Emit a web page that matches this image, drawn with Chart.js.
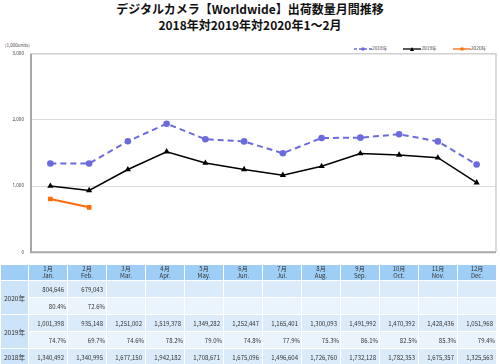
<!DOCTYPE html>
<html>
<head>
<meta charset="utf-8">
<script src="https://cdn.jsdelivr.net/npm/chart.js@4"></script>
<style>
  body { margin: 0; width: 500px; height: 364px; background: #fff; position: relative; overflow: hidden;
         font-family: "Noto Sans CJK JP", "Noto Sans", sans-serif; color: #222; }
  #title { position: absolute; top: 1px; left: 0; width: 500px; text-align: center; font-weight: bold;
           font-size: 12px; line-height: 15.5px; color: #111; }
  #unit { position: absolute; left: 5px; top: 42px; font-size: 4.5px; color: #444; }
  #legend { position: absolute; top: 43px; left: 354px; font-size: 4.8px; color: #444; white-space: nowrap; }
  #legend span.item { display: inline-block; margin-right: 16px; vertical-align: middle; }
  #legend canvas { vertical-align: middle; }
  #chartBox { position: absolute; left: 0; top: 44px; width: 500px; height: 218px; }
  table { position: absolute; left: 0; top: 264px; border-collapse: collapse; table-layout: fixed; width: 497px;
          font-size: 6px; color: #333; }
  td, th { border: 1px solid #fff; padding: 0; overflow: hidden; white-space: nowrap; }
  th { background: #9ecdf5; height: 15px; font-weight: normal; text-align: center; line-height: 6.5px; }
  td { height: 16px; }
  td.lab { background: #cde3f8; text-align: center; font-size: 6.6px; }
  td.v { background: #dcebfa; text-align: right; padding-right: 3px; }
  td.p { background: #eaf4fd; text-align: right; padding-right: 1px; }
</style>
</head>
<body>
<div id="title">デジタルカメラ【Worldwide】出荷数量月間推移<br>2018年対2019年対2020年1～2月</div>
<div id="unit">(1,000units)</div>
<div id="legend"></div>
<div id="chartBox"><canvas id="chartCanvas"></canvas></div>
<table id="tbl"></table>

<script>
const monthsJa = ['1月', '2月', '3月', '4月', '5月', '6月', '7月', '8月', '9月', '10月', '11月', '12月'];
const monthsEn = ['Jan.', 'Feb.', 'Mar.', 'Apr.', 'May.', 'Jun.', 'Jul.', 'Aug.', 'Sep.', 'Oct.', 'Nov.', 'Dec.'];

const units2018 = [1340492, 1340995, 1677150, 1942182, 1708671, 1675096, 1496604, 1726760, 1732128, 1782353, 1675357, 1325563];
const units2019 = [1001398, 935148, 1251002, 1519378, 1349282, 1252447, 1165401, 1300093, 1491992, 1470392, 1428436, 1051968];
const units2020 = [804646, 679043];

const yTicks = [0, 1000, 2000, 3000];

const series = [
    { label: '2018年', data: units2018, color: '#6b6bdc', dash: [6, 4], point: 'circle', width: 2 },
    { label: '2019年', data: units2019, color: '#000000', dash: [], point: 'triangle', width: 1.5 },
    { label: '2020年', data: units2020, color: '#ff6a0d', dash: [], point: 'rect', width: 2 }
];

// legend (small canvases with line + marker)
const legendDiv = document.getElementById('legend');
series.forEach(s => {
    const item = document.createElement('span');
    item.className = 'item';
    const c = document.createElement('canvas');
    c.width = 18; c.height = 6;
    const g = c.getContext('2d');
    g.strokeStyle = s.color; g.fillStyle = s.color; g.lineWidth = 1.3;
    g.setLineDash(s.dash.length ? [3, 2] : []);
    g.beginPath(); g.moveTo(0, 3); g.lineTo(18, 3); g.stroke();
    g.beginPath();
    if (s.point === 'circle') g.arc(9, 3, 1.8, 0, Math.PI * 2);
    else if (s.point === 'triangle') { g.moveTo(9, 1); g.lineTo(11, 5); g.lineTo(7, 5); }
    else g.rect(7.5, 1.5, 3, 3);
    g.fill();
    item.appendChild(c);
    item.appendChild(document.createTextNode(s.label));
    legendDiv.appendChild(item);
});

const plotFrame = {
    id: 'plotFrame',
    beforeDatasetsDraw(chart) {
        const a = chart.chartArea, ctx = chart.ctx;
        ctx.save();
        ctx.strokeStyle = '#d0d0d0'; ctx.lineWidth = 1.5;
        ctx.beginPath();
        ctx.moveTo(a.left, a.top); ctx.lineTo(a.right, a.top); ctx.lineTo(a.right, a.bottom);
        ctx.stroke();
        ctx.strokeStyle = '#a8a8a8'; ctx.lineWidth = 2;
        ctx.beginPath();
        ctx.moveTo(a.left, a.top); ctx.lineTo(a.left, a.bottom); ctx.lineTo(a.right, a.bottom);
        ctx.stroke();
        ctx.restore();
    }
};

new Chart(document.getElementById('chartCanvas'), {
    type: 'line',
    data: {
        labels: monthsEn,
        datasets: series.map(s => ({
            label: s.label,
            data: s.data.map(v => v / 1000),
            borderColor: s.color,
            backgroundColor: s.color,
            borderWidth: s.width,
            borderDash: s.dash,
            pointStyle: s.point,
            pointRadius: s.point === 'triangle' ? 3.6 : 3.3,
            pointBorderWidth: 0,
            tension: 0,
            fill: false
        }))
    },
    options: {
        responsive: true,
        maintainAspectRatio: false,
        animation: false,
        layout: { padding: { top: 4, right: 3, bottom: 3, left: 0 } },
        plugins: { legend: { display: false }, tooltip: { enabled: false } },
        scales: {
            x: { display: false, offset: true },
            y: {
                min: 0, max: 3000,
                afterBuildTicks: sc => { sc.ticks = yTicks.map(v => ({ value: v })); },
                afterFit: sc => { sc.width = 31; },
                border: { display: false },
                grid: { color: '#dcdcdc', lineWidth: 1, drawTicks: false },
                ticks: {
                    padding: 7,
                    color: '#444',
                    font: { size: 4.5, family: 'Noto Sans' },
                    callback: v => v.toLocaleString('en-US')
                }
            }
        }
    },
    plugins: [plotFrame]
});

// table
const tbl = document.getElementById('tbl');
let html = '<colgroup><col style="width:28px">' + monthsJa.map(() => '<col>').join('') + '</colgroup>';
html += '<tr><th></th>' + monthsJa.map((m, i) => `<th>${m}<br>${monthsEn[i]}</th>`).join('') + '</tr>';
const fmt = v => v === undefined ? '' : v.toLocaleString('en-US');
const pct = (a, b) => (a === undefined ? '' : (a / b * 100).toFixed(1) + '%');
const valueRow = arr => monthsJa.map((m, i) => `<td class="v">${fmt(arr[i])}</td>`).join('');
const pctRow = (arr, prev) => monthsJa.map((m, i) => `<td class="p">${pct(arr[i], prev[i])}</td>`).join('');
html += '<tr><td class="lab" rowspan="2">2020年</td>' + valueRow(units2020) + '</tr>';
html += '<tr>' + pctRow(units2020, units2019) + '</tr>';
html += '<tr><td class="lab" rowspan="2">2019年</td>' + valueRow(units2019) + '</tr>';
html += '<tr>' + pctRow(units2019, units2018) + '</tr>';
html += '<tr><td class="lab">2018年</td>' + valueRow(units2018) + '</tr>';
tbl.innerHTML = html;
</script>
</body>
</html>
